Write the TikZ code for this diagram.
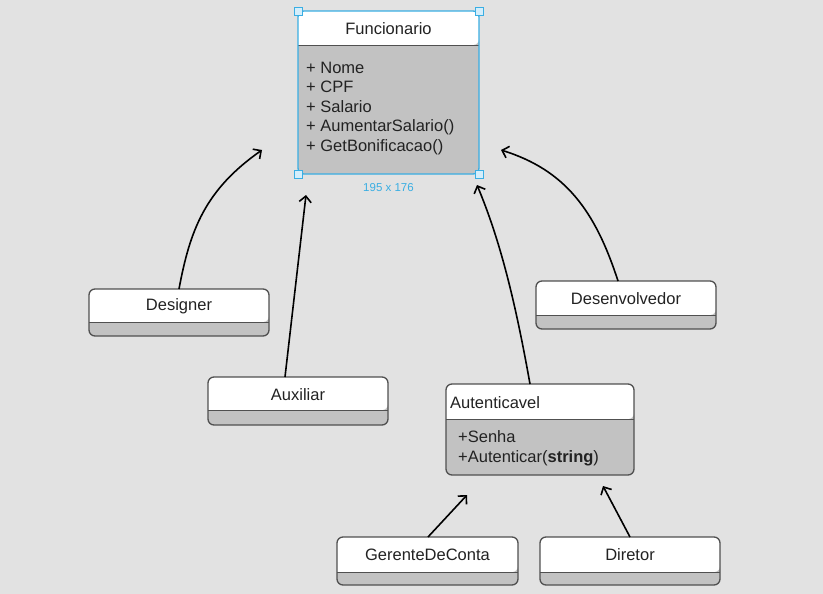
\documentclass[tikz,border=0pt]{standalone}
\usepackage{fontspec}
\setmainfont{Liberation Sans}
\usetikzlibrary{arrows.meta,calc}
\definecolor{bg}{HTML}{E2E2E2}
\definecolor{comp}{HTML}{C2C2C2}
\definecolor{edge}{HTML}{505050}
\definecolor{sel}{HTML}{3AAEE3}
\definecolor{handle}{HTML}{D4EEFB}
\definecolor{ink}{HTML}{222222}
\tikzset{
  conn/.style={line width=1.6pt, black, -{Straight Barb[length=6pt,width=12pt,line width=1.6pt]}},
  lbl/.style={font=\fontsize{16.5}{18}\selectfont, text=ink, inner sep=0pt},
  attr/.style={font=\fontsize{16.5}{19.6}\selectfont, text=ink, inner sep=0pt, align=left, anchor=north west},
  hnd/.style={fill=handle, draw=sel, line width=0.8pt, minimum size=8pt, inner sep=0pt},
}
% name, x1, y1, x2, y2, ydiv, border color
\newcommand{\classbox}[7]{%
  \fill[comp, rounded corners=6pt] (#2,#3) rectangle (#4,#5);
  \fill[white, rounded corners=6pt] (#2,#6) -- (#2,#3) -- (#4,#3) -- (#4,#6) [sharp corners] -- cycle;
  \draw[edge, line width=0.9pt] (#2,#6) -- (#4,#6);
  \draw[#7, line width=1.3pt, rounded corners=6pt] (#2,#3) rectangle (#4,#5);
  \path (#2,#3) coordinate (#1-nw) (#4,#5) coordinate (#1-se);
  \node[inner sep=0pt] (#1) at ($(#1-nw)!0.5!(#1-se)$) {};
}
\begin{document}
\begin{tikzpicture}[x=1pt,y=-1pt]
\fill[bg] (0,0) rectangle (823,594);
\useasboundingbox (0,0) rectangle (823,594);

% Funcionario
\classbox{func}{298}{11}{479}{174}{45}{sel}
\node[lbl] (funcT) at (388.5,29) {Funcionario};
\node[attr] (funcA) at (306,61.5) {+ Nome\\+ CPF\\+ Salario\\+ AumentarSalario()\\+ GetBonificacao()};
\node[hnd] (h1) at (298,11) {};
\node[hnd] (h2) at (479,11) {};
\node[hnd] (h3) at (298,174) {};
\node[hnd] (h4) at (479,174) {};
\node[font=\fontsize{11.5}{12}\selectfont, text=sel, inner sep=0pt] (dim) at (388.5,188) {195 x 176};

% Designer
\classbox{des}{89}{289}{269}{336}{322}{edge}
\node[lbl] (desT) at (179,306.5) {Designer};

% Auxiliar
\classbox{aux}{208}{377}{388}{425}{410}{edge}
\node[lbl] (auxT) at (298,395) {Auxiliar};

% Desenvolvedor
\classbox{dev}{536}{281}{716}{329}{315}{edge}
\node[lbl] (devT) at (626,299) {Desenvolvedor};

% Autenticavel
\classbox{aut}{446}{384}{634}{475}{419}{edge}
\node[lbl, anchor=west] (autT) at (450,403) {Autenticavel};
\node[attr] (autA) at (458,430.5) {+Senha\\+Autenticar(\textbf{string})};

% GerenteDeConta
\classbox{ger}{337}{537}{518}{585}{572}{edge}
\node[lbl] (gerT) at (427.5,555) {GerenteDeConta};

% Diretor
\classbox{dir}{540}{537}{720}{585}{572}{edge}
\node[lbl] (dirT) at (630,555) {Diretor};

% arrow end points
\coordinate (e1) at (262,150);
\coordinate (e2) at (306,195);
\coordinate (e3) at (477,185);
\coordinate (e4) at (501,150);
\coordinate (e5) at (467,495);
\coordinate (e6) at (603,486);
\coordinate (s1) at (179,289);
\coordinate (s2) at (285,377);
\coordinate (s3) at (530,384);
\coordinate (s4) at (618,281);
\coordinate (s5) at (428,537);
\coordinate (s6) at (630,537);

\draw[conn] (s1) .. controls (190,230) and (205,190) .. (e1);
\draw[conn] (s2) -- (e2);
\draw[conn] (s3) .. controls (515,300) and (500,240) .. (e3);
\draw[conn] (s4) .. controls (595,210) and (565,170) .. (e4);
\draw[conn] (s5) -- (e5);
\draw[conn] (s6) -- (e6);
\end{tikzpicture}
\end{document}
